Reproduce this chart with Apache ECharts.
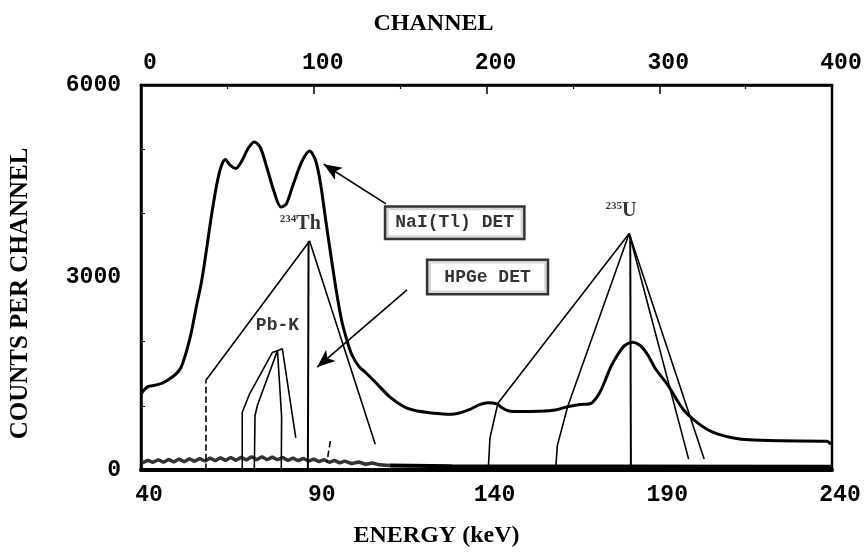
<!DOCTYPE html>
<html><head><meta charset="utf-8">
<script src="https://cdn.jsdelivr.net/npm/echarts@6/dist/echarts.min.js"></script>
<style>html,body{margin:0;padding:0;background:#fff}#c{width:865px;height:553px}</style>
</head><body><div id="c"></div>
<script>
// ---- axis ticks ----
const energyTicks = [40, 90, 140, 190, 240];
const channelTicks = [0, 100, 200, 300, 400];
const countTicks = [0, 3000, 6000];

// ---- NaI(Tl) spectrum (energy keV, counts) ----
const naiSpectrum = [
  [40.2,1200],[42,1300],[44,1320],[46,1350],[48,1410],[50,1490],[51.5,1590],[53,1820],[54.5,2130],
  [56,2540],[57.5,2930],[59,3450],[60.5,4000],[62,4470],[63.2,4730],[64.4,4840],[65.8,4750],[67.4,4700],
  [69,4800],[71,5010],[72.8,5110],[74.5,5030],[76.5,4700],[78.5,4340],[80.5,4100],[82,4140],[84,4440],
  [86.5,4800],[88.8,4970],[90.5,4830],[92,4450],[93.5,3880],[95,3330],[96.5,2800],[98,2350],[99.5,2040],
  [101,1800],[103,1620],[105,1520],[108,1360],[112,1140],[116,990],[119,930],[124,890],[130,870],
  [135,940],[138,1020],[140.5,1050],[143,1030],[144.5,970],[146.5,920],[150,910],[155,915],[160,935],
  [163,980],[167,1020],[170.3,1040],[172.5,1180],[174,1350],[176,1610],[178,1800],[180,1940],[182.3,1990],
  [184.5,1940],[186.6,1800],[189,1570],[192.4,1330],[195,1100],[197,940],[200,780],[203.9,630],[207,560],
  [211.5,500],[216,470],[225,455],[238.5,447],[239.7,400]
];

// ---- HPGe spectrum pieces (energy keV, counts) ----
const hpgeContinuumLow = [
  [40.3,110],[42,150],[43.5,120],[45,160],[46.5,120],[48,165],[49.5,125],[51,170],[52.5,130],[54,175],
  [55.5,135],[57,180],[58.5,140],[60,185],[61.5,145],[63,190],[64.5,150],[66,195],[67.5,150],[69,200],
  [70.5,155],[72,205],[73.5,160],[75,205],[76.5,160],[78,200],[79.5,160],[81,195],[82.5,150],[84,185],
  [85.5,145],[87,180],[88.5,140],[90,170],[91.5,130],[93,160],[94.5,120],[96,150],[97.5,110],[99,140],
  [101,100],[103,125],[105,90],[107,110],[109,80],[112,70]
];
const hpgeContinuumHigh = [[112,70],[130,60],[170,55],[239.7,50]];
const hpgeTh234 = [[58.8,1400],[88.8,3570],[107.8,400]];
const hpgeTh234Stem = [[88.5,3570],[88.3,0]];
const hpgeTh234Foot = [[58.8,0],[58.8,1400]];
const hpgePbK1 = [[69.3,0],[69.3,900],[71.3,1170],[78.0,1830],[79.5,1860],[80.7,830],[80.6,0]];
const hpgePbK2 = [[72.8,0],[73.0,850],[73.7,1010],[79.5,1860],[80.9,1890],[84.8,500]];
const hpgeSmall = [[94.8,450],[93.8,120]];
const hpgeU235Left = [[181.3,3685],[143.3,1040],[141,500],[140.5,0]];
const hpgeU235Left2 = [[181.3,3685],[163.5,990],[160.5,380],[160,0]];
const hpgeU235Stem = [[181.6,3640],[181.8,0]];
const hpgeU235Right1 = [[181.3,3685],[198.5,170]];
const hpgeU235Right2 = [[181.3,3685],[203,170]];

// ---- annotations ----
const annotations = [
  {name:'NaI(Tl) DET', at:[130.8,3855]},
  {name:'HPGe DET', at:[140.3,3007]},
  {name:'Pb-K', at:[79.5,2251]},
  {name:'234Th', at:[86.1,3840]},
  {name:'235U', at:[178.9,4040]}
];
const arrows = [
  {from:[110.9,4148], to:[92.9,4765]},
  {from:[117,2806], to:[91,1604]}
];

const chart = echarts.init(document.getElementById('c'), null, {renderer:'canvas'});
const monoBold = {fontFamily:'Liberation Mono', fontWeight:'bold', color:'#000'};
const serifBold = {fontFamily:'Liberation Serif', fontWeight:'bold', color:'#000'};

function thin(name, data, opts) {
  opts = opts || {};
  return {
    name, type:'line', data, showSymbol:false, symbol:'none', animation:false, z:3,
    lineStyle:{color: opts.color || '#000', width: opts.width || 1.6, type: opts.type || 'solid'}
  };
}

const annoSeries = {
  name:'annotations', type:'scatter', symbolSize:0, z:10, animation:false,
  data: annotations.map(a => ({value:a.at, name:a.name})),
  label: {
    show:true, position:'inside',
    formatter: p => {
      const n = p.name;
      if (n === '234Th') return '{s|234}{b|Th}';
      if (n === '235U') return '{s|235}{b|U}';
      return n;
    },
    rich: {
      s:{fontFamily:'Liberation Serif', fontWeight:'bold', fontSize:11, verticalAlign:'top', color:'#000', padding:[0,0,8,0]},
      b:{fontFamily:'Liberation Serif', fontWeight:'bold', fontSize:20, color:'#000'}
    },
    ...monoBold, fontSize:18
  }
};
annoSeries.data.forEach(d => {
  if (d.name.indexOf('DET') >= 0) {
    d.label = {borderColor:'#000', borderWidth:2.5, padding: d.name === 'HPGe DET' ? [7,16] : [6,9], backgroundColor:'#fff'};
  }
});

const option = {
  backgroundColor:'#fff',
  animation:false,
  grid:{left:139, right:33, top:85, bottom:79, show:true, borderColor:'#000', borderWidth:2.5, backgroundColor:'transparent'},
  xAxis:[
    {type:'value', position:'bottom', min:energyTicks[0], max:energyTicks[energyTicks.length-1], interval:energyTicks[1]-energyTicks[0],
     name:'ENERGY (keV)', nameLocation:'middle', nameGap:54, nameTextStyle:{...serifBold, fontSize:24, padding:[0,100,0,0]},
     axisLine:{lineStyle:{color:'#000', width:4}}, axisTick:{show:false}, splitLine:{show:false},
     axisLabel:{...monoBold, fontSize:23, margin:14, padding:[0,0,0,16]}},
    {type:'value', position:'top', min:channelTicks[0], max:channelTicks[channelTicks.length-1], interval:channelTicks[1]-channelTicks[0],
     name:'CHANNEL', nameLocation:'middle', nameGap:49, nameTextStyle:{...serifBold, fontSize:24, padding:[0,106,0,0]},
     axisLine:{lineStyle:{color:'#000', width:2.5}}, axisTick:{show:true, inside:true, length:9, lineStyle:{color:'#000', width:1.5}},
     minorTick:{show:true, splitNumber:2, length:4, lineStyle:{color:'#000', width:1.2}}, splitLine:{show:false},
     axisLabel:{...monoBold, fontSize:23, margin:10, padding:[0,0,0,18]}}
  ],
  yAxis:[
    {type:'value', min:countTicks[0], max:countTicks[countTicks.length-1], interval:countTicks[1]-countTicks[0],
     name:'COUNTS PER CHANNEL', nameLocation:'middle', nameGap:108, nameTextStyle:{...serifBold, fontSize:25, padding:[0,32,0,0]},
     axisLine:{show:true, lineStyle:{color:'#000', width:2.5}}, axisTick:{show:true, inside:true, length:0},
     minorTick:{show:true, splitNumber:3, length:4, lineStyle:{color:'#000', width:1}}, splitLine:{show:false},
     axisLabel:{...monoBold, fontSize:23, margin:20, formatter: v => String(v)}}
  ],
  series:[
    {name:'NaI(Tl) DET', type:'line', data:naiSpectrum, showSymbol:false, symbol:'none', smooth:0.3, z:4,
     lineStyle:{color:'#000', width:3},
     markLine:{silent:true, symbol:['none','arrow'], symbolSize:[11,18], label:{show:false},
       lineStyle:{color:'#000', width:1.6, type:'solid'},
       data: arrows.map(a => [{coord:a.from}, {coord:a.to}])}},
    thin('HPGe continuum low', hpgeContinuumLow, {width:3.5, color:'#333'}),
    thin('HPGe continuum high', hpgeContinuumHigh, {width:4}),
    thin('HPGe 234Th', hpgeTh234),
    thin('HPGe 234Th stem', hpgeTh234Stem, {width:2}),
    thin('HPGe 234Th foot', hpgeTh234Foot, {type:'dashed'}),
    thin('HPGe Pb-K 1', hpgePbK1),
    thin('HPGe Pb-K 2', hpgePbK2),
    thin('HPGe small', hpgeSmall, {type:'dashed'}),
    thin('HPGe 235U left', hpgeU235Left),
    thin('HPGe 235U left 2', hpgeU235Left2),
    thin('HPGe 235U stem', hpgeU235Stem, {width:2}),
    thin('HPGe 235U right 1', hpgeU235Right1),
    thin('HPGe 235U right 2', hpgeU235Right2),
    annoSeries
  ]
};
chart.setOption(option);
</script></body></html>
